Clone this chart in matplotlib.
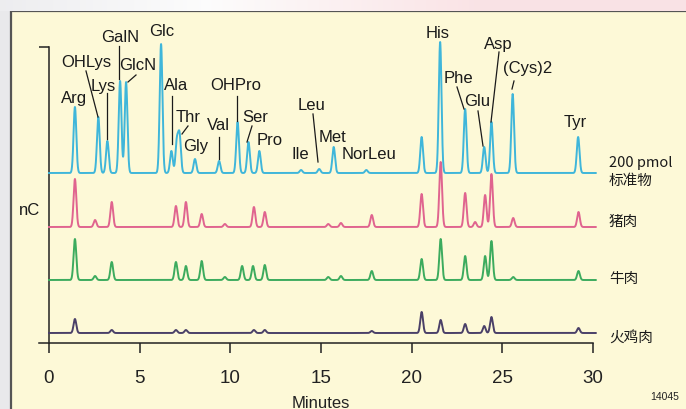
import numpy as np
import matplotlib
matplotlib.use("Agg")
import matplotlib.pyplot as plt
from matplotlib.lines import Line2D
from matplotlib.patches import Rectangle

# ---------------- data (retention time in minutes, peak height in arbitrary nC units) -------------
std_times   = [1.43, 2.72, 3.22, 3.92, 4.25, 6.18, 6.75, 7.05, 7.20, 8.05, 9.38, 10.40, 11.00, 11.60,
               13.90, 14.90, 15.70, 17.50, 20.55, 21.57, 22.95, 24.00, 24.40, 25.57, 29.18]
std_heights = [66, 56, 32, 92, 91, 129, 22, 31, 37, 14, 12, 51, 31, 22,
               3, 4, 26, 3, 36, 131, 64, 26, 51, 79, 36]

pork_times   = [1.43, 2.54, 3.46, 7.00, 7.55, 8.42, 9.70, 11.30, 11.90, 15.40, 16.10, 17.80,
                20.55, 21.60, 22.95, 23.50, 24.05, 24.40, 25.60, 29.20]
pork_heights = [48, 7, 25, 21, 25, 13, 3, 20, 15, 3, 4, 12,
                33, 65, 34, 5, 32, 53, 9, 15]

beef_times   = [1.43, 2.54, 3.46, 7.00, 7.55, 8.42, 9.70, 10.65, 11.25, 11.90, 15.40, 16.10, 17.80,
                20.55, 21.60, 22.95, 24.05, 24.40, 25.60, 29.20]
beef_heights = [41, 4, 18, 18, 14, 19, 3, 14, 14, 15, 3, 4, 9,
                21, 41, 24, 24, 39, 3, 9]

turkey_times   = [1.43, 3.46, 7.00, 7.55, 11.30, 11.90, 17.80, 20.55, 21.60, 22.95, 24.00, 24.40, 29.20]
turkey_heights = [14, 3, 3, 3, 3, 3, 2, 21, 13, 9, 7, 16, 5]

trace_names   = ["200 pmol\n标准物", "猪肉", "牛肉", "火鸡肉"]
trace_offsets = [170, 116, 63, 10]

x_ticks = [0, 5, 10, 15, 20, 25, 30]

peak_labels = ["Arg", "OHLys", "Lys", "GalN", "GlcN", "Glc", "Ala", "Thr", "Gly", "Val",
               "OHPro", "Ser", "Pro", "Ile", "Leu", "Met", "NorLeu", "His", "Phe", "Glu",
               "Asp", "(Cys)2", "Tyr"]

# ---------------- styles / layout ----------------
W, H = 686, 410
colors = ["#3fb6da", "#e0648f", "#3cab5e", "#4a4068"]
bg_beige = "#fdf9d7"
LBL_FONT = ["Liberation Sans", "DejaVu Sans"]
CJK_FONT = ["Noto Sans CJK SC", "DejaVu Sans"]
LBL_SIZE = 12

# label anchor positions in pixels (x, y from top)
label_pos = {"Arg": (74, 99), "OHLys": (86, 62), "Lys": (103, 87), "GalN": (120, 37),
             "GlcN": (138, 65), "Glc": (162, 32), "Ala": (176, 85), "Thr": (188, 118),
             "Gly": (196, 147), "Val": (218, 126), "OHPro": (236, 86), "Ser": (255, 118),
             "Pro": (270, 141), "Ile": (300, 155), "Leu": (312, 106), "Met": (333, 138),
             "NorLeu": (369, 155), "His": (438, 33), "Phe": (458, 79), "Glu": (477, 102),
             "Asp": (498, 44), "(Cys)2": (528, 68), "Tyr": (575, 123)}
leaders = [((86, 72), (98, 118)), ((107, 94), (107, 140)), ((119, 47), (119, 80)),
           ((136, 76), (128, 83)), ((172, 97), (172, 145)), ((188, 127), (182, 135)),
           ((219, 138), (219, 160)), ((237, 97), (237, 122)), ((252, 127), (247, 143)),
           ((313, 115), (318, 163)), ((457, 88), (464, 110)), ((478, 112), (483, 147)),
           ((499, 53), (491, 123)), ((514, 82), (512, 90))]

fig = plt.figure(figsize=(W / 100, H / 100), dpi=100)
fig.patch.set_facecolor("#e9e9eb")

def fx(px):
    return px / W

def fy(py):
    return 1 - py / H

# top gradient band
band = fig.add_axes([0, fy(12), 1, 12 / H], zorder=-5)
grad = np.linspace(0, 1, 256)
c1 = np.array([0.93, 0.93, 0.94]); c2 = np.array([0.99, 0.99, 0.99]); c3 = np.array([0.98, 0.89, 0.90])
img = np.zeros((1, 256, 3))
for i, g in enumerate(grad):
    if g < 0.3:
        img[0, i] = c1 + (c2 - c1) * (g / 0.3)
    else:
        img[0, i] = c2 + (c3 - c2) * min(1, (g - 0.3) / 0.4)
band.imshow(img, aspect="auto", extent=[0, 1, 0, 1])
band.axis("off")

# framed beige panel
fig.add_artist(Rectangle((fx(11), fy(420)), 1.0, fy(12) - fy(420), transform=fig.transFigure,
                         facecolor=bg_beige, edgecolor="#555555", lw=1.6, zorder=-10))

# main axes: x 0..30 -> px 49..593, y 0..296 -> py 344..48
ax = fig.add_axes([fx(49), fy(344), fx(593) - fx(49), fy(48) - fy(344)], zorder=5)
ax.set_facecolor("none")
ax.set_xlim(0, 30)
ax.set_ylim(0, 296)

t = np.linspace(0, 30.15, 6000)
sigma = 0.075

def trace(times, heights):
    y = np.zeros_like(t)
    for tc, h in zip(times, heights):
        y += h * np.exp(-0.5 * ((t - tc) / sigma) ** 2)
    return y

series = [(std_times, std_heights), (pork_times, pork_heights),
          (beef_times, beef_heights), (turkey_times, turkey_heights)]
for (tt, hh), off, col in zip(series, trace_offsets, colors):
    ax.plot(t, trace(tt, hh) + off, color=col, lw=1.4, clip_on=False, zorder=3,
            solid_joinstyle="round")

# spines / ticks
for s in ["top", "right"]:
    ax.spines[s].set_visible(False)
ax.spines["left"].set_bounds(0, 296)
ax.spines["bottom"].set_bounds(-0.55, 30)
for s in ["left", "bottom"]:
    ax.spines[s].set_color("#222222")
    ax.spines[s].set_linewidth(1.1)
ax.set_xticks(x_ticks)
ax.set_xticklabels([str(v) for v in x_ticks], fontsize=LBL_SIZE + 1.5, family=LBL_FONT, color="#222222")
ax.tick_params(axis="x", direction="out", length=7.5, width=1.1, color="#222222", pad=11)
ax.set_yticks([296])
ax.set_yticklabels([""])
ax.tick_params(axis="y", direction="out", length=7.5, width=1.1, color="#222222")
ax.set_xlabel("Minutes", fontsize=LBL_SIZE, family=LBL_FONT, color="#222222", labelpad=7)

# peak labels
for name in peak_labels:
    px, py = label_pos[name]
    fig.text(fx(px), fy(py), name, ha="center", va="center", fontsize=LBL_SIZE,
             family=LBL_FONT, color="#1a1a1a", zorder=6)
for (p0, p1) in leaders:
    fig.add_artist(Line2D([fx(p0[0]), fx(p1[0])], [fy(p0[1]), fy(p1[1])],
                          transform=fig.transFigure, color="#1a1a1a", lw=0.9, zorder=6))

# trace names on the right
name_pos = [(609, 172), (609, 222), (609, 279), (609, 338)]
for nm, (px, py) in zip(trace_names, name_pos):
    fig.text(fx(px), fy(py), nm, ha="left", va="center", fontsize=10.5,
             family=CJK_FONT, color="#1a1a1a", linespacing=1.3, zorder=6)

fig.text(fx(30), fy(211), "nC", ha="center", va="center", fontsize=LBL_SIZE, family=LBL_FONT, color="#1a1a1a")
fig.text(fx(665), fy(397), "14045", ha="center", va="center", fontsize=7.5, family=LBL_FONT, color="#222222")

fig.savefig("out.png", dpi=100, facecolor=fig.get_facecolor())
